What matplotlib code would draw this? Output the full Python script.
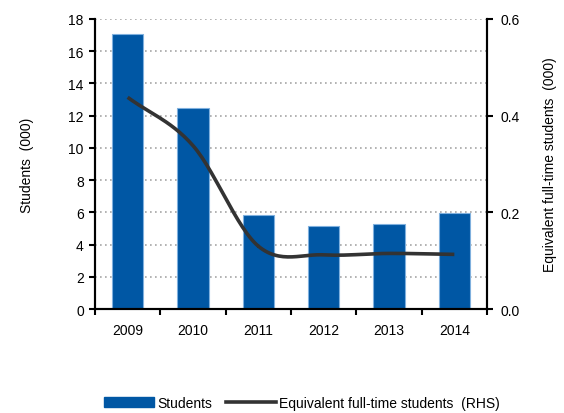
import numpy as np
import matplotlib
matplotlib.use('Agg')
import matplotlib.pyplot as plt
from matplotlib.patches import Patch
from matplotlib.lines import Line2D

plt.rcParams['font.family'] = ['Liberation Sans', 'DejaVu Sans']
plt.rcParams['font.size'] = 10

# Data (thousands)
years = ['2009', '2010', '2011', '2012', '2013', '2014']
students = [17.05, 12.45, 5.85, 5.15, 5.25, 5.97]
eft_students = [0.438, 0.338, 0.130, 0.112, 0.115, 0.113]

bar_color = '#0057A4'
line_color = '#333333'


def catmull_rom(xs, ys, n=30):
    # smooth curve through every point, like a spreadsheet "smoothed line"
    px = np.concatenate([[2 * xs[0] - xs[1]], xs, [2 * xs[-1] - xs[-2]]])
    py = np.concatenate([[2 * ys[0] - ys[1]], ys, [2 * ys[-1] - ys[-2]]])
    out_x, out_y = [], []
    t = np.linspace(0, 1, n)
    for i in range(1, len(px) - 2):
        for p, out in ((px, out_x), (py, out_y)):
            p0, p1, p2, p3 = p[i - 1], p[i], p[i + 1], p[i + 2]
            seg = 0.5 * ((2 * p1) + (-p0 + p2) * t
                         + (2 * p0 - 5 * p1 + 4 * p2 - p3) * t ** 2
                         + (-p0 + 3 * p1 - 3 * p2 + p3) * t ** 3)
            out.extend(seg)
    return np.array(out_x), np.array(out_y)


fig = plt.figure(figsize=(5.64, 4.14), dpi=100)
ax = fig.add_axes([0.1684, 0.2512, 0.6951, 0.7005])
ax2 = ax.twinx()

x = np.arange(len(years))
ax.bar(x, students, width=0.48, color=bar_color, edgecolor='#7FB0DE',
       linewidth=0.8, zorder=2)

ax.set_ylim(0, 18)
ax.set_yticks(np.arange(0, 19, 2))
ax.set_xlim(-0.5, len(years) - 0.5)
ax.set_xticks(x)
ax.set_xticklabels(years)
ax.set_xticks(np.arange(-0.5, len(years)), minor=True)
ax.tick_params(axis='x', which='major', length=0, pad=10)
ax.tick_params(axis='x', which='minor', length=4, width=1.5, direction='out')
ax.tick_params(axis='y', length=4, width=1.5, direction='out', pad=4)
ax.yaxis.grid(True, linestyle=(0, (1, 2)), color='#a6a6a6', linewidth=1.2)
ax.set_axisbelow(True)
ax.set_ylabel('Students  (000)', labelpad=25)

sx, sy = catmull_rom(x.astype(float), np.array(eft_students))
ax2.plot(sx, sy, color=line_color, linewidth=2.6, solid_capstyle='butt', zorder=3)
ax2.set_ylim(0, 0.6)
ax2.set_yticks([0.0, 0.2, 0.4, 0.6])
ax2.set_yticklabels(['0.0', '0.2', '0.4', '0.6'])
ax2.tick_params(axis='y', length=4, width=1.5, direction='out', pad=6)
ax2.set_ylabel('Equivalent full-time students  (000)', rotation=90, labelpad=16)

for a in (ax, ax2):
    a.spines['top'].set_visible(False)
    for s in ('left', 'right', 'bottom'):
        a.spines[s].set_linewidth(1.5)

handles = [Patch(facecolor=bar_color, edgecolor=bar_color),
           Line2D([0], [0], color=line_color, linewidth=2.6)]
fig.legend(handles, ['Students', 'Equivalent full-time students  (RHS)'],
           loc='center', bbox_to_anchor=(0.535, 0.024), ncol=2, frameon=False,
           handlelength=3.6, handleheight=0.7, handletextpad=0.2,
           columnspacing=1.0, borderaxespad=0)

fig.savefig('out.png', dpi=100)
